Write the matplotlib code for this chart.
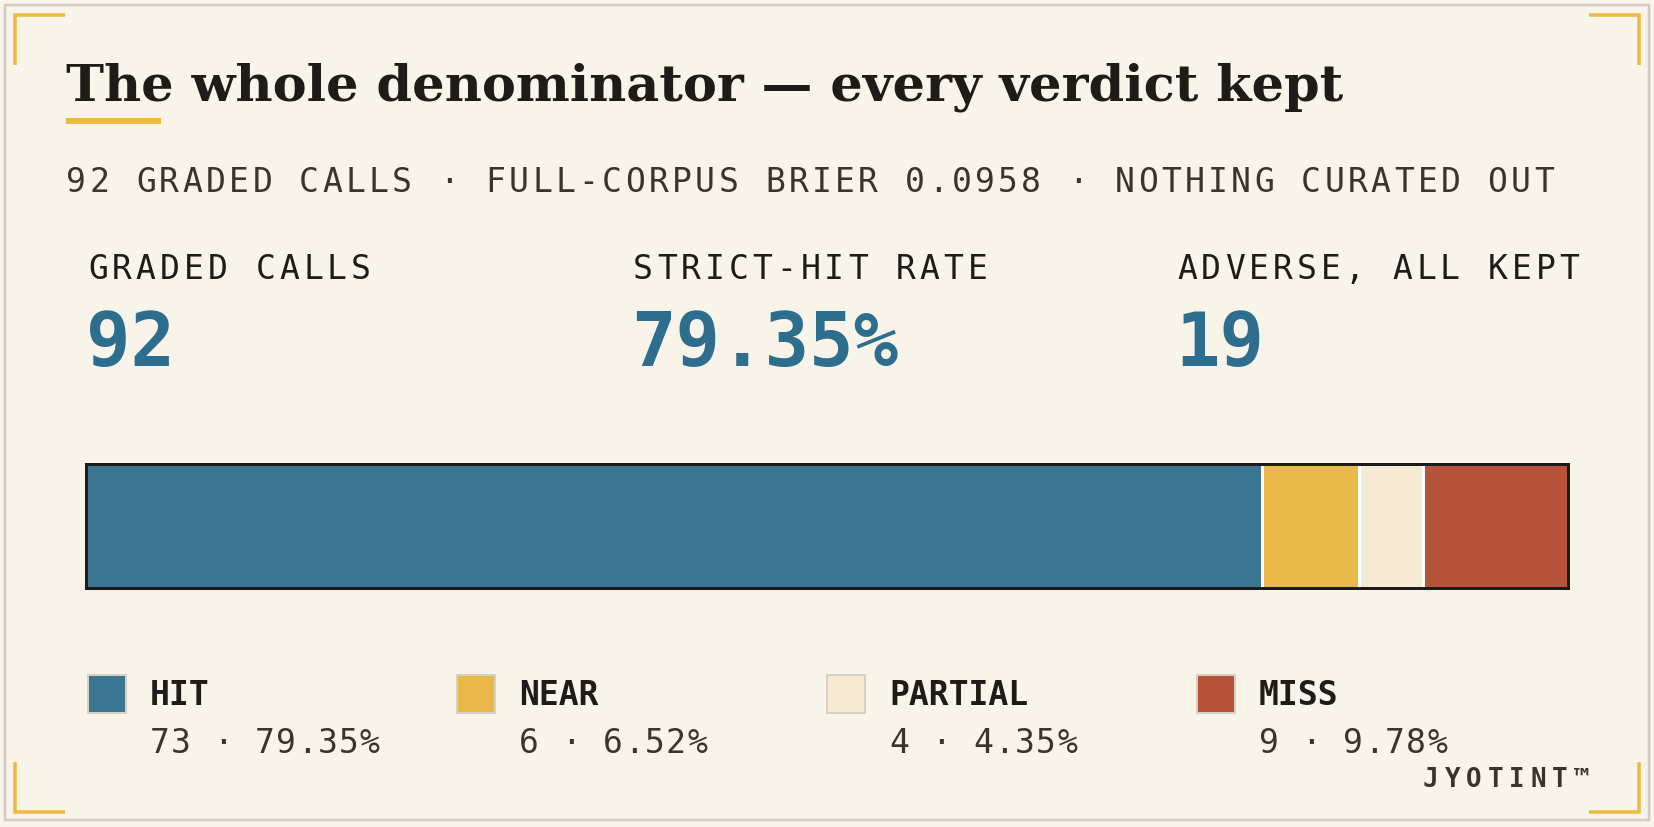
import matplotlib
matplotlib.use('Agg')
import matplotlib.pyplot as plt
from matplotlib.patches import Rectangle

# data
verdicts = ['HIT', 'NEAR', 'PARTIAL', 'MISS']
counts = [73, 6, 4, 9]
shares = [79.35, 6.52, 4.35, 9.78]
colors = ['#3a7591', '#e9b94b', '#f4ebd2', '#b5533b']

kpi_labels = ['GRADED CALLS', 'STRICT-HIT RATE', 'ADVERSE, ALL KEPT']
kpi_values = ['92', '79.35%', '19']

title = 'The whole denominator \u2014 every verdict kept'
subtitle = '92 GRADED CALLS \u00b7 FULL-CORPUS BRIER 0.0958 \u00b7 NOTHING CURATED OUT'
brand = 'JYOTINT\u2122'

W, H = 1654, 827
BG = '#f8f4ea'
INK = '#1f1b16'
SOFT = '#3b342d'
TEAL = '#2d6e8e'
GOLD = '#efb942'
MONO = 'DejaVu Sans Mono'


def px(v):
    # pixels -> points at dpi 100
    return v * 0.72


def spaced(ax, x, y, s, pitch, **kw):
    for i, ch in enumerate(s):
        ax.text(x + i * pitch, y, ch, ha='left', va='baseline', **kw)


fig = plt.figure(figsize=(W / 100, H / 100), dpi=100, facecolor=BG)
ax = fig.add_axes([0, 0, 1, 1])
ax.set_xlim(0, W)
ax.set_ylim(H, 0)
ax.axis('off')
ax.set_facecolor(BG)

# frame and gold corner brackets
ax.add_patch(Rectangle((5, 5), W - 10, H - 12, fill=False, ec='#d3ccbe', lw=px(2.5)))
L = 50
for cx, cy, dx, dy in [(15, 15, 1, 1), (1639, 15, -1, 1), (15, 812, 1, -1), (1639, 812, -1, -1)]:
    ax.plot([cx + dx * L, cx, cx], [cy, cy, cy + dy * L], color=GOLD, lw=px(3.5),
            solid_joinstyle='miter', solid_capstyle='butt')

# title, auto-fit to the reference width
t = ax.text(66, 100, title, ha='left', va='baseline', family='DejaVu Serif',
            weight='bold', fontsize=px(52), color=INK)
r = fig.canvas.get_renderer()
w = t.get_window_extent(r).width
t.set_fontsize(px(52) * 1275 / w)
ax.plot([66, 161], [121, 121], color=GOLD, lw=px(6), solid_capstyle='butt')

spaced(ax, 66, 192, subtitle, 23.3, family=MONO, fontsize=px(33), color=SOFT)

# KPI blocks
kpi_x = [88, 633, 1177]
for x, lab, val in zip(kpi_x, kpi_labels, kpi_values):
    spaced(ax, x, 279, lab, 23.9, family=MONO, fontsize=px(33), color=INK)
    ax.text(x - 2, 366, val, ha='left', va='baseline', family=MONO, weight='bold',
            fontsize=px(74), color=TEAL)

# stacked bar
bx = fig.add_axes([86 / W, 1 - 588 / H, 1482 / W, 124 / H])
left = 0
for c, col in zip(counts, colors):
    bx.barh(0, c, left=left, height=1, color=col, edgecolor='white', lw=px(3))
    left += c
bx.set_xlim(0, sum(counts))
bx.set_ylim(-0.5, 0.5)
bx.set_xticks([])
bx.set_yticks([])
for s in bx.spines.values():
    s.set_color('#1d1c1a')
    s.set_linewidth(px(3))
bx.set_facecolor(BG)

# legend
leg_x = [88, 457, 827, 1197]
for x, name, c, sh, col in zip(leg_x, verdicts, counts, shares, colors):
    ax.add_patch(Rectangle((x, 675), 38, 38, fc=col, ec='#d8d1c1', lw=px(2)))
    ax.text(x + 62, 705, name, ha='left', va='baseline', family=MONO, weight='bold',
            fontsize=px(33), color=INK)
    spaced(ax, x + 62, 753, f'{c} \u00b7 {sh:.2f}%', 21.0, family=MONO,
           fontsize=px(33), color=SOFT)

spaced(ax, 1423, 787, brand, 21.5, family=MONO, weight='bold', fontsize=px(26), color=SOFT)

fig.savefig('out.png', dpi=100, facecolor=BG)
